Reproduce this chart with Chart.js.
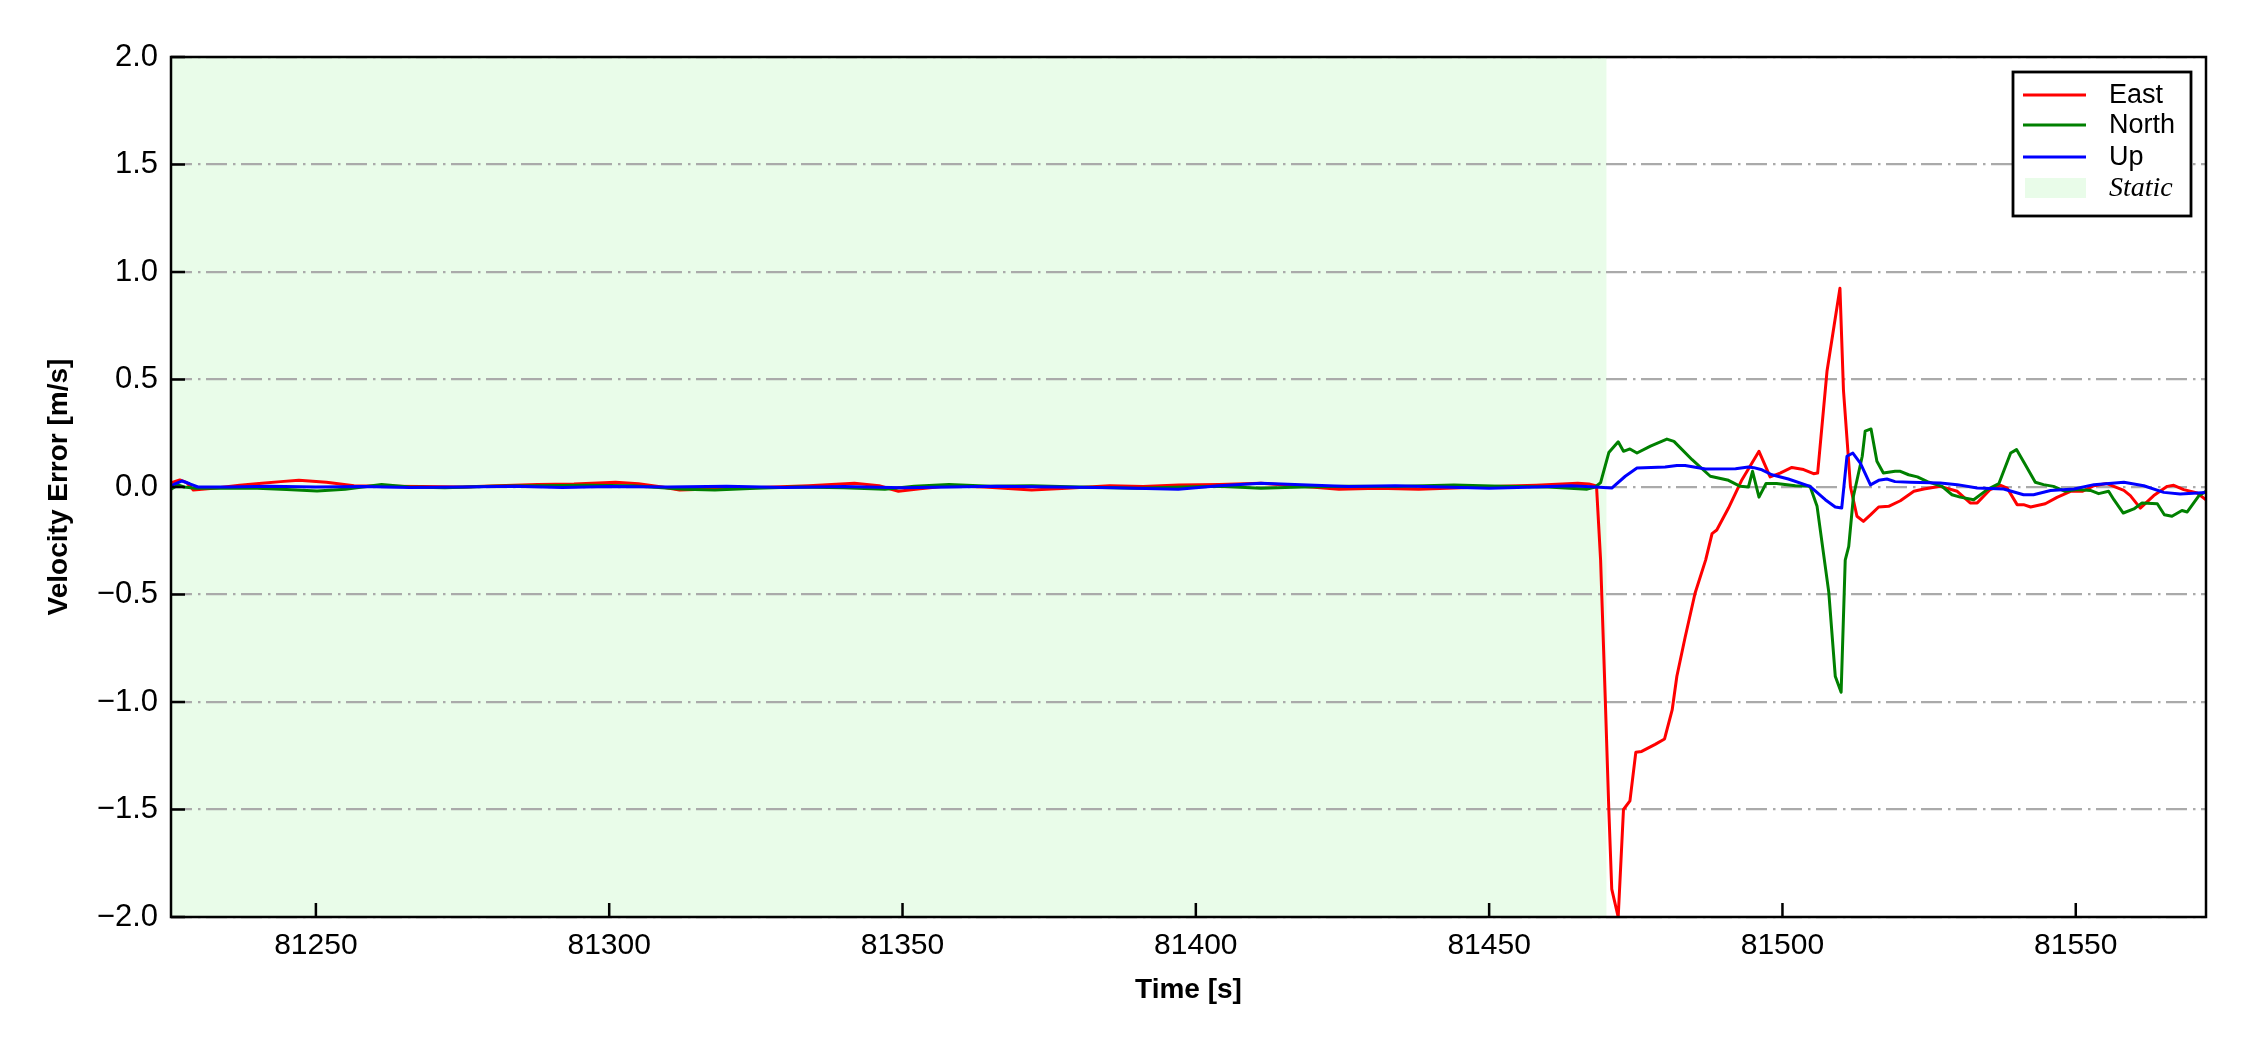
<!DOCTYPE html>
<html><head><meta charset="utf-8">
<script src="https://cdn.jsdelivr.net/npm/chart.js@4.4.1/dist/chart.umd.min.js"></script>
<style>html,body{margin:0;padding:0;background:#fff;}</style>
</head><body>
<canvas id="c" width="2250" height="1050"></canvas>
<script>
// ---------- data ----------
const seriesNames = ['East', 'North', 'Up'];
const staticLabel = 'Static';
const xTickValues = [81250, 81300, 81350, 81400, 81450, 81500, 81550];
const yTickValues = [-2, -1.5, -1, -0.5, 0, 0.5, 1, 1.5, 2];
const xMin = 81225.3, xMax = 81572.2;
const staticStart = 81225.3, staticEnd = 81470;

const eastT = [81225.3,81226.8,81228,81229.1,81233,81237,81240.8,81244,81247.1,81251.8,81256.5,81262,81268,81275,81281,81287.8,81294,81301.1,81305,81309,81312,81316,81322,81328,81334,81341.8,81346,81349.3,81353,81357.9,81364,81372,81378,81385.3,81391,81397.1,81404,81411.1,81417,81424.4,81431,81438,81444,81452,81458,81465.1,81467,81468.3,
81469,81469.8,81470.4,81470.9,81472,81472.9,81474,81475,81476,81478.3,81479.9,81481.2,81482,81483.4,81485.1,81486.9,81488,81488.8,81490.8,81493.1,81496,81497.9,81499.6,81501.6,81503.6,81505.3,81506,81507.6,81508.8,81509.8,81510.4,81511.6,81512.7,81513.8,81515,81516.4,81518.1,81520.1,81522.4,81524.1,81526.9,81529.8,81532,81533.2,81535.4,81537.2,81538.3,81540,81541.1,81542.3,81544.8,81546.8,81549.1,81551.1,81553.1,81555.3,81558.2,81559.3,81561,81563.3,81565.6,81566.7,81568.4,81570.7,81572.2];
const eastV = [0.02,0.033,0.02,-0.014,-0.005,0.008,0.017,0.025,0.031,0.022,0.006,0.004,0.002,0,0.006,0.012,0.014,0.022,0.015,0,-0.014,-0.01,-0.006,0,0.006,0.017,0.006,-0.02,-0.008,0.006,0,-0.014,-0.006,0.006,0.002,0.009,0.012,0.017,0.006,-0.01,-0.006,-0.01,-0.005,0.004,0.008,0.017,0.014,0.005,
-0.34,-0.99,-1.5,-1.87,-2.0,-1.5,-1.46,-1.234,-1.23,-1.197,-1.172,-1.037,-0.88,-0.70,-0.494,-0.34,-0.217,-0.2,-0.098,0.034,0.166,0.047,0.065,0.091,0.081,0.062,0.065,0.54,0.75,0.924,0.45,0,-0.136,-0.16,-0.13,-0.093,-0.09,-0.064,-0.02,-0.009,0.003,-0.02,-0.074,-0.074,-0.012,0.008,-0.005,-0.082,-0.082,-0.093,-0.078,-0.048,-0.02,-0.02,0.006,0.016,-0.016,-0.04,-0.098,-0.04,0.003,0.008,-0.012,-0.028,-0.06];

const northT = [81225.3,81226.5,81227.5,81229.5,81234,81240,81245,81250.2,81255,81261.2,81266,81272,81280,81288,81296,81304,81312.8,81318,81325,81332,81340,81347,81352,81357.9,81365,81372,81380,81390,81398,81404,81411.1,81418,81426,81434,81444,81452,81460,81466.7,81468.1,
81469,81470.4,81472,81472.9,81474,81475.2,81477.5,81480.3,81481.5,81484.6,81487.7,81490.8,81492.8,81494.2,81494.9,81496,81497.2,81499,81502.2,81504.7,81505.9,81507.9,81509,81510,81510.7,81511.3,81512.1,81513.6,81514.1,81515.1,81516.1,81517.2,81519.2,81520.1,81521.5,81523,81524.7,81527.2,81528.9,81530.3,81532.6,81534.9,81536.9,81538.9,81539.9,81541.4,81543.1,81544.5,81546.2,81548.2,81550.2,81552.5,81553.9,81555.6,81556.5,81558.1,81559.9,81561.3,81563.9,81565.1,81566.4,81568.1,81569,81571,81572.2];
const northV = [-0.01,0.01,0,-0.006,-0.006,-0.006,-0.012,-0.019,-0.01,0.012,0,-0.004,0.004,0.006,0.008,0.006,-0.01,-0.014,-0.006,0,-0.004,-0.01,0.004,0.012,0.004,0.006,0,-0.006,0,0.004,-0.006,0,0.004,0.002,0.009,0.004,0,-0.01,0,
0.02,0.16,0.21,0.166,0.177,0.158,0.19,0.223,0.212,0.127,0.05,0.031,0.003,0,0.073,-0.047,0.016,0.016,0.006,0.003,-0.09,-0.49,-0.88,-0.955,-0.34,-0.276,-0.043,0.143,0.26,0.27,0.12,0.065,0.073,0.073,0.057,0.047,0.025,0.003,-0.036,-0.047,-0.059,-0.012,0.016,0.158,0.174,0.104,0.022,0.011,0.003,-0.02,-0.012,-0.016,-0.031,-0.02,-0.059,-0.121,-0.102,-0.074,-0.078,-0.129,-0.136,-0.109,-0.116,-0.04,-0.02];

const upT = [81225.3,81226,81227.2,81228.5,81229.9,81235,81242,81250,81258,81266,81275,81284,81292,81300,81310,81320,81330,81340,81350,81358,81366,81376,81386,81397,81404,81411.1,81418,81426,81434,81442,81450,81458,81464,81468.1,
81470.9,81473.2,81475.2,81480,81482,81483.4,81486.9,81492,81494.2,81495.1,81496.5,81498.2,81501,81504.7,81507.3,81509,81510.1,81511,81512,81513.3,81515,81516.4,81517.8,81519.2,81521.8,81526.9,81529.8,81533.2,81537.7,81541.1,81542.8,81545.7,81549.7,81553.1,81558.2,81561.6,81565,81567.8,81572.2];
const upV = [0.005,0.015,0.028,0.015,0,0,0.003,0,0.002,-0.002,0,0.003,-0.002,0.002,0,0.003,-0.002,0.002,-0.003,0,0.003,0,-0.004,-0.01,0.006,0.017,0.01,0.002,0.006,0,-0.006,0,0.006,0,
-0.005,0.05,0.088,0.093,0.1,0.1,0.084,0.085,0.093,0.09,0.08,0.057,0.037,0.003,-0.059,-0.093,-0.098,0.143,0.158,0.11,0.01,0.031,0.037,0.025,0.022,0.019,0.011,-0.005,-0.009,-0.036,-0.036,-0.016,-0.009,0.011,0.022,0.006,-0.025,-0.033,-0.025];

const seriesColors = ['#ff0000', '#008000', '#0000ff'];
const staticColor = '#e9fce9';

// ---------- chart ----------
const SANS = 'Arial, "Liberation Sans", Helvetica, sans-serif';
const SERIF = '"Times New Roman", "Liberation Serif", serif';
const pair = (T, V) => T.map((t, i) => ({x: t, y: V[i]}));
const allT = [eastT, northT, upT], allV = [eastV, northV, upV];

const bgPlugin = {
  id: 'bg',
  beforeDraw(chart) {
    const {ctx, chartArea: a, scales: {x}} = chart;
    ctx.save();
    ctx.fillStyle = '#ffffff';
    ctx.fillRect(0, 0, chart.width, chart.height);
    const x0 = Math.max(a.left, x.getPixelForValue(staticStart));
    const x1 = Math.min(a.right, x.getPixelForValue(staticEnd));
    ctx.fillStyle = staticColor;
    ctx.fillRect(x0, a.top, x1 - x0, a.bottom - a.top);
    ctx.restore();
  }
};

const framePlugin = {
  id: 'frame',
  afterDraw(chart) {
    const {ctx, chartArea: a, scales: {x, y}} = chart;
    ctx.save();
    ctx.strokeStyle = '#000';
    ctx.lineWidth = 2.5;
    ctx.lineCap = 'butt';
    const tl = 14;
    ctx.beginPath();
    xTickValues.forEach(v => {
      const px = x.getPixelForValue(v);
      ctx.moveTo(px, a.bottom); ctx.lineTo(px, a.bottom - tl);
    });
    yTickValues.forEach(v => {
      const py = y.getPixelForValue(v);
      ctx.moveTo(a.left, py); ctx.lineTo(a.left + tl, py);
    });
    ctx.stroke();
    ctx.strokeRect(a.left, a.top, a.right - a.left, a.bottom - a.top);

    // legend
    const bw = 178, bh = 144;
    const bx = a.right - 15 - bw, by = a.top + 15;
    ctx.fillStyle = '#fff';
    ctx.fillRect(bx, by, bw, bh);
    ctx.lineWidth = 2.8;
    ctx.strokeRect(bx, by, bw, bh);
    const rows = [23, 53, 85, 116];
    ctx.textBaseline = 'middle';
    ctx.textAlign = 'left';
    seriesNames.forEach((n, i) => {
      const ry = by + rows[i];
      ctx.strokeStyle = seriesColors[i];
      ctx.lineWidth = 3;
      ctx.beginPath(); ctx.moveTo(bx + 10, ry); ctx.lineTo(bx + 73, ry); ctx.stroke();
      ctx.fillStyle = '#000';
      ctx.font = '27px ' + SANS;
      ctx.fillText(n, bx + 96, ry + 1);
    });
    const sy = by + rows[3];
    ctx.fillStyle = staticColor;
    ctx.fillRect(bx + 12, sy - 10, 61, 20);
    ctx.fillStyle = '#000';
    ctx.font = 'italic 28px ' + SERIF;
    ctx.fillText(staticLabel, bx + 96, sy + 1);
    ctx.restore();
  }
};

new Chart(document.getElementById('c').getContext('2d'), {
  type: 'line',
  data: {
    datasets: seriesNames.map((n, i) => ({
      label: n,
      data: pair(allT[i], allV[i]),
      borderColor: seriesColors[i],
      backgroundColor: seriesColors[i],
      order: 2 - i,
      fill: false
    }))
  },
  options: {
    responsive: false,
    animation: false,
    devicePixelRatio: 1,
    elements: {
      line: {borderWidth: 3, tension: 0, borderCapStyle: 'round', borderJoinStyle: 'round'},
      point: {radius: 0, hoverRadius: 0}
    },
    layout: {padding: {left: 0, top: 57, right: 44, bottom: 0}},
    plugins: {legend: {display: false}, tooltip: {enabled: false}},
    scales: {
      x: {
        type: 'linear', min: xMin, max: xMax,
        afterBuildTicks: s => { s.ticks = xTickValues.map(v => ({value: v})); },
        afterFit: s => { s.height = 133; },
        grid: {display: false, drawTicks: false},
        border: {display: false},
        ticks: {font: {family: SANS, size: 30}, color: '#000', padding: 11, maxRotation: 0, autoSkip: false,
                callback: v => String(v)},
        title: {display: true, text: 'Time [s]', color: '#000',
                font: {family: SANS, size: 28, weight: 'bold'}, padding: {top: 0, bottom: 43}}
      },
      y: {
        type: 'linear', min: -2, max: 2,
        afterBuildTicks: s => { s.ticks = yTickValues.map(v => ({value: v})); },
        afterFit: s => { s.width = 171; },
        grid: {color: '#aaaaaa', lineWidth: 2.2, drawTicks: false},
        border: {display: false, dash: [21, 6, 2.5, 5.5]},
        ticks: {font: {family: SANS, size: 31}, color: '#000', padding: 13, autoSkip: false,
                callback: v => (v < 0 ? '\u2212' : '') + Math.abs(v).toFixed(1)},
        title: {display: true, text: 'Velocity Error [m/s]', color: '#000',
                font: {family: SANS, size: 28, weight: 'bold'}, padding: {top: 42, bottom: 0}}
      }
    }
  },
  plugins: [bgPlugin, framePlugin]
});
</script>
</body></html>
